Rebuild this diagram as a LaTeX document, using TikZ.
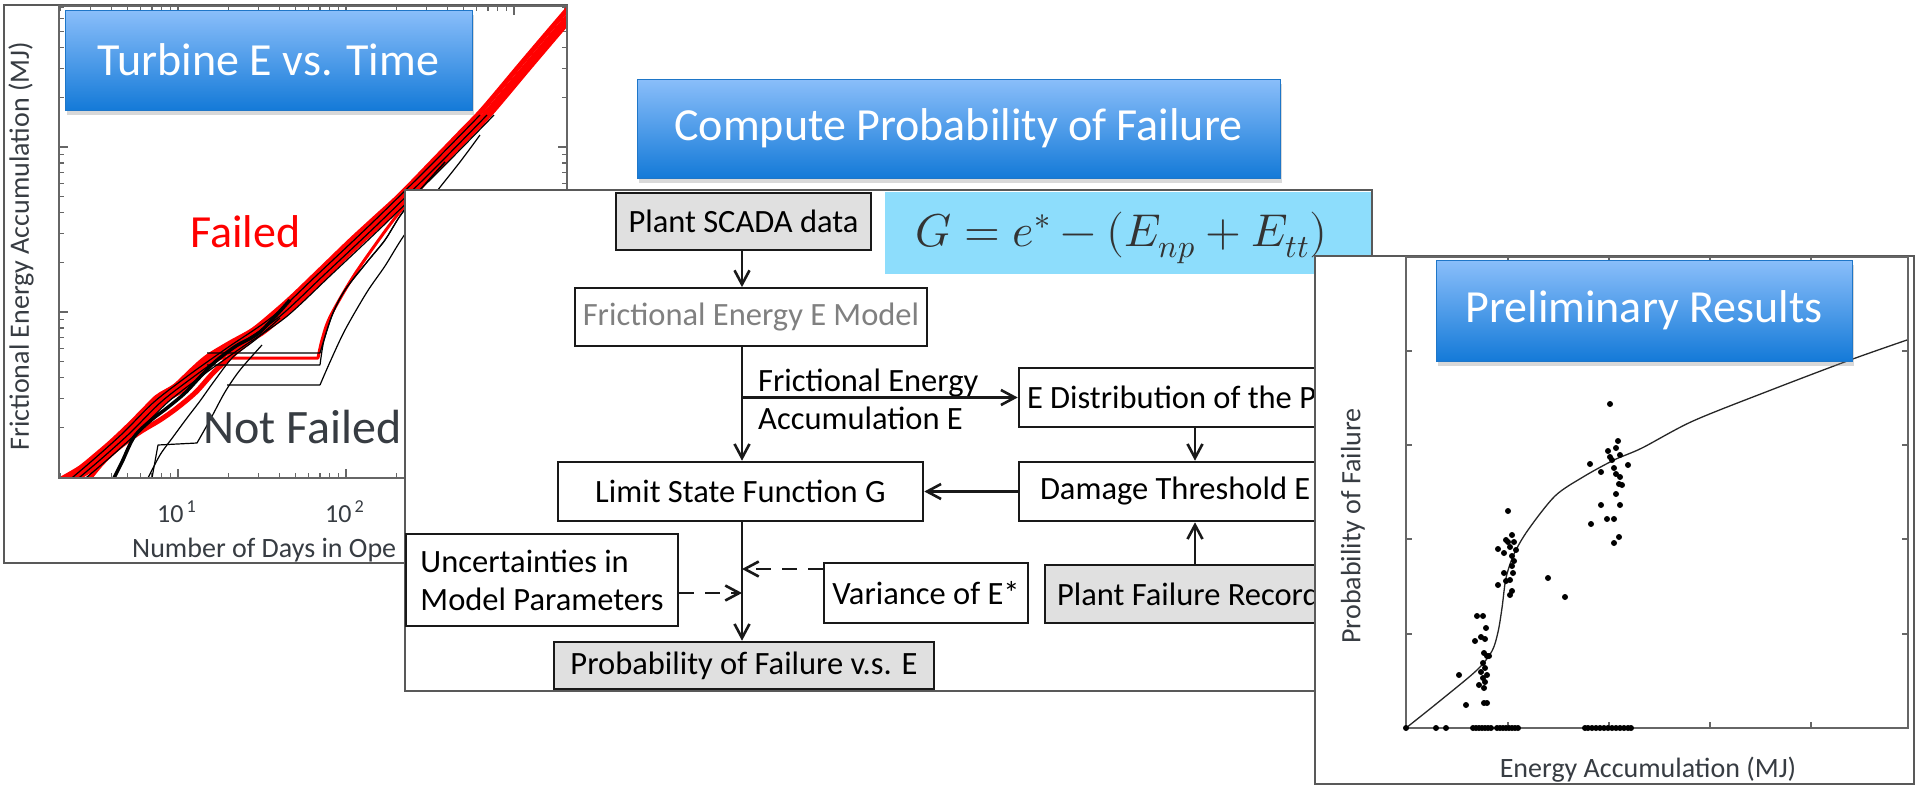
\documentclass[tikz,border=0pt]{standalone}
\usepackage{fontspec}
\usepackage{unicode-math}
\setmainfont{Carlito}
\setmathfont{Latin Modern Math}
\usetikzlibrary{arrows.meta,shadows}

\definecolor{bannertop}{RGB}{138,190,250}
\definecolor{bannerbot}{RGB}{20,122,216}
\definecolor{bannerline}{RGB}{30,118,200}
\definecolor{formulafill}{RGB}{141,221,252}
\definecolor{recordfill}{RGB}{224,224,224}
\definecolor{inkgray}{RGB}{55,60,66}

\tikzset{
  panel/.style={draw=black!65, line width=1.5pt, fill=white},
  axis/.style={draw=black!60, line width=1.2pt},
  banner/.style={draw=bannerline, line width=1pt, top color=bannertop, bottom color=bannerbot,
    text=white, font=\fontsize{46}{50}\selectfont, inner sep=0pt,
    drop shadow={opacity=0.3, shadow xshift=2pt, shadow yshift=-5pt}},
  stepbox/.style={draw=black!90, line width=2.6pt, font=\fontsize{32.5}{38}\selectfont,
    text=black, inner sep=0pt},
  databox/.style={stepbox, fill=recordfill},
  flow/.style={draw=black!90, line width=2.6pt, -{Straight Barb[length=14pt,width=15pt]}},
  maybe/.style={flow, dash pattern=on 15pt off 11pt},
  failed/.style={red, line width=5pt, line join=round, line cap=round},
  survived/.style={black, line width=1.2pt, line join=round},
  axislabel/.style={text=inkgray, font=\fontsize{28}{32}\selectfont, inner sep=0pt},
  fitline/.style={black!85, line width=1.3pt}
}

\begin{document}
\begin{tikzpicture}[x=1pt, y=-1pt]
  \useasboundingbox (0,0) rectangle (1915,785);

  % turbine energy vs. time
  \draw[panel] (4,5) rectangle (567,563);
  \begin{scope}
    \clip (59,6) rectangle (567,478);
    \foreach \d in {0,1,2,3}
      \foreach \k in {1,...,9} {
        \pgfmathsetmacro\tx{10+168*(\d+log10(\k))}
        \pgfmathsetmacro\tl{ifthenelse(\k==1,9,5)}
        \draw[axis] (\tx,478) -- ++(0,-\tl);
        \draw[axis] (\tx,6) -- ++(0,\tl);
      }
    \foreach \d in {0,1,2}
      \foreach \k in {1,...,9} {
        \pgfmathsetmacro\ty{477-165*(\d+log10(\k))}
        \pgfmathsetmacro\tl{ifthenelse(\k==1,9,5)}
        \draw[axis] (59,\ty) -- ++(\tl,0);
        \draw[axis] (567,\ty) -- ++(-\tl,0);
      }
    \foreach \s in {0,5,9}
      \draw[failed, shift={(\s,\s/3)}] plot[smooth] coordinates {(63,478) (80,468) (96,455) (110,443) (126,428) (142,412) (157,397) (175,386) (192,370) (207,357) (230,343) (253,330) (275,312) (293,296) (320,270) (350,241) (375,218) (400,195) (433,161) (460,133) (483,109) (520,65) (548,32) (572,4)};
    \draw[failed] plot[smooth] coordinates {(88,480) (102,463) (118,448) (140,432) (160,420) (177,408) (196,392) (214,372) (236,352) (262,331) (290,302) (320,274) (350,244) (400,198) (433,164)};
    \draw[failed, line width=3pt] (207,358) -- (318,358) plot[smooth] coordinates {(318,358) (322,340) (330,317) (353,277) (383,234) (403,208) (430,178)};
    \draw[survived, line width=3.5pt] plot[smooth] coordinates {(113,480) (122,462) (134,437) (150,421) (167,408) (185,393) (200,377) (216,361) (236,346) (260,332) (290,300)};
    \foreach \s in {-3,4,11}
      \draw[survived, shift={(\s,4)}] plot[smooth] coordinates {(70,478) (96,456) (126,429) (157,398) (192,371) (230,344) (275,313) (320,271) (375,219) (433,162) (483,111)};
    \draw[survived] plot[smooth] coordinates {(147,480) (160,455) (173,437) (187,418) (200,401) (215,380) (233,357) (255,340) (280,318)};
    \draw[survived] (152,478) -- (158,445) -- (197,443) plot[smooth] coordinates {(197,443) (210,420) (225,392) (240,370) (262,345)};
    \foreach \h in {353,365}
      \draw[survived] (207,\h) -- (320,\h) plot[smooth] coordinates {(320,\h) (324,340) (333,313) (345,290) (367,262) (385,240) (400,216) (420,190) (445,162)};
    \draw[survived] (227,385) -- (320,385) plot[smooth] coordinates {(320,385) (330,362) (345,330) (367,292) (385,266) (403,237) (430,200) (460,162) (480,135)};
  \end{scope}
  \draw[axis] (59,6) rectangle (567,478);
  \node[banner, minimum width=407, minimum height=100] (turbine) at (268.5,60) {Turbine E vs. Time};
  \node[text=red, font=\fontsize{46}{50}\selectfont, inner sep=0pt, anchor=base west] (failedlbl) at (190,247) {Failed};
  \node[text=inkgray, font=\fontsize{48}{52}\selectfont, inner sep=0pt, anchor=base west] (okaylbl) at (203,443) {Not Failed};
  \node[axislabel, rotate=90] (elabel) at (21,246) {Frictional Energy Accumulation (MJ)};
  \node[axislabel, font=\fontsize{26}{30}\selectfont, anchor=base west] (tickone) at (157,522) {10\textsuperscript{\,1}};
  \node[axislabel, font=\fontsize{26}{30}\selectfont, anchor=base west] (ticktwo) at (325,522) {10\textsuperscript{\,2}};
  \node[axislabel, anchor=base west] (dayslabel) at (132,557) {Number of Days in Ope};

  % probability of failure flow
  \node[banner, minimum width=643, minimum height=99] (compute) at (958.5,128.5) {Compute Probability of Failure};
  \draw[panel] (405,190) rectangle (1372,691);
  \node[fill=formulafill, minimum width=486, minimum height=82, anchor=north west, inner sep=0pt] (formulabox) at (885,192) {};
  \node[text=black!80, font=\fontsize{46}{50}\selectfont, anchor=base west, inner sep=0pt] (formula) at (915,246) {$G=e^{*}-(E_{np}+E_{tt})$};
  \coordinate (trunk) at (742,0);
  \coordinate (col) at (1195,0);
  \node[databox, minimum width=255, minimum height=57] (plant) at (743.5,221.5) {Plant SCADA data};
  \node[stepbox, line width=1.8pt, text=black!50, minimum width=352, minimum height=58] (model) at (751,317) {Frictional Energy E Model};
  \node[stepbox, minimum width=365, minimum height=59] (limit) at (740.5,491.5) {Limit State Function G};
  \node[stepbox, inner xsep=8pt, minimum height=59] (dist) at (1182,397.5) {\makebox[310pt][l]{E Distribution of the P}};
  \node[stepbox, inner xsep=21pt, minimum height=59] (damage) at (1182,491.5) {\makebox[284pt][l]{Damage Threshold E}};
  \node[databox, inner xsep=12pt, minimum height=58] (record) at (1195,594) {\makebox[276pt][l]{Plant Failure Record}};
  \node[stepbox, minimum width=204, minimum height=60] (variance) at (926,593) {Variance of E*};
  \node[stepbox, align=left, minimum width=272, minimum height=92] (uncert) at (542,580) {Uncertainties in\\Model Parameters};
  \node[databox, minimum width=380, minimum height=47] (prob) at (744,665.5) {Probability of Failure v.s. E};
  \node[font=\fontsize{32.5}{38}\selectfont, text=black, align=left, anchor=west, inner sep=0pt] (accum) at (758,399) {Frictional Energy\\Accumulation E};

  \draw[flow] (plant.south -| trunk) -- (model.north -| trunk);
  \draw[flow] (model.south -| trunk) -- (limit.north -| trunk);
  \draw[flow] (trunk |- dist.west) -- (dist.west);
  \draw[flow] (dist.south -| col) -- (damage.north -| col);
  \draw[flow] (record.north -| col) -- (damage.south -| col);
  \draw[flow] (damage.west) -- (limit.east);
  \draw[flow] (limit.south -| trunk) -- (prob.north -| trunk);
  \draw[maybe] ([yshift=24pt]variance.west) -- ([yshift=24pt]variance.west -| trunk);
  \draw[maybe] ([yshift=-13pt]uncert.east) -- ([yshift=-13pt]uncert.east -| trunk);

  % preliminary results
  \draw[panel] (1315,256) rectangle (1914,784);
  \draw[axis] (1406,257) rectangle (1908,728);
  \foreach \y in {351,445,539,634} {
    \draw[axis] (1406,\y) -- ++(6,0);
    \draw[axis] (1908,\y) -- ++(-6,0);
  }
  \foreach \x in {1508,1609,1710,1811} {
    \draw[axis] (\x,728) -- ++(0,-6);
    \draw[axis] (\x,257) -- ++(0,6);
  }
  \draw[fitline] plot[smooth] coordinates {(1406,728) (1441,700) (1477,670) (1492,651) (1498,632) (1502,608) (1506,578) (1514,554) (1528,530) (1555,496) (1583,477) (1614,460) (1642,448) (1693,421) (1771,390) (1850,360) (1907,340)};
  \foreach \px/\py in {1459/675, 1466/705, 1475/641, 1477/616, 1483/616, 1486/628, 1481/637, 1485/639, 1484/653, 1487/656, 1489/656, 1483/663, 1485/668, 1481/672, 1487/675, 1483/678, 1485/682, 1479/685, 1484/688, 1484/703, 1487/703,
      1508/511, 1498/549, 1504/553, 1506/540, 1508/542, 1512/535, 1514/542, 1510/547, 1516/550, 1512/556, 1514/561, 1512/566, 1504/573, 1513/573, 1498/585, 1506/581, 1510/580, 1512/591, 1510/595, 1548/578, 1565/597,
      1610/404, 1618/441, 1608/451, 1616/448, 1610/457, 1620/455, 1612/460, 1590/464, 1601/472, 1614/468, 1616/474, 1620/477, 1628/465, 1619/484, 1622/485, 1616/494, 1601/505, 1620/505, 1591/524, 1607/519, 1614/519, 1619/537, 1614/543}
    \fill (\px,\py) circle (3pt);
  \foreach \px in {1406,1436,1446,1473,1476,1479,1482,1485,1488,1491,1497,1500,1503,1506,1509,1512,1515,1518,1585,1588,1592,1596,1600,1604,1608,1612,1616,1620,1624,1628,1631}
    \fill (\px,728) circle (3pt);
  \node[banner, minimum width=416, minimum height=101] (prelim) at (1644,310.5) {Preliminary Results};
  \node[axislabel, rotate=90] (plabel) at (1353,526) {Probability of Failure};
  \node[axislabel, anchor=base] (xlabel) at (1648,777) {Energy Accumulation (MJ)};
\end{tikzpicture}
\end{document}
